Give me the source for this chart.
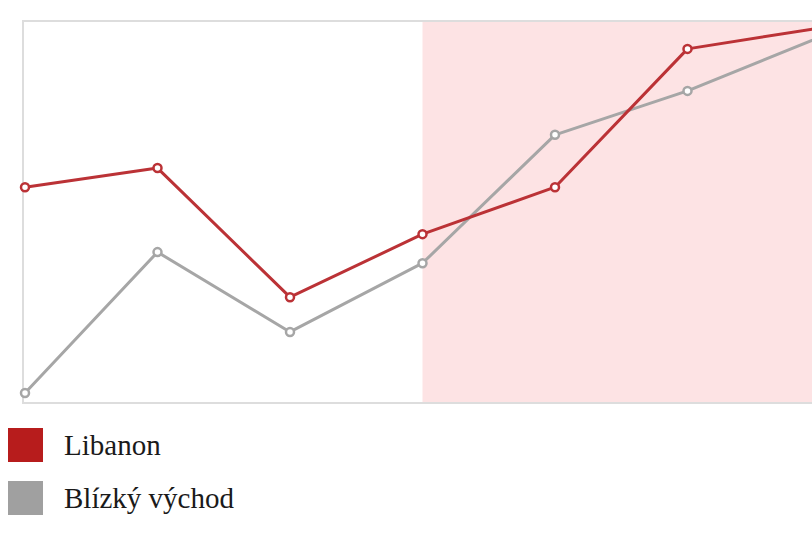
<!DOCTYPE html>
<html>
<head>
<meta charset="utf-8">
<script src="https://cdn.jsdelivr.net/npm/d3@7"></script>
<style>
  html, body { margin: 0; padding: 0; background: #fff; overflow: hidden; }
  #chart { width: 812px; height: 534px; }
</style>
</head>
<body>
<div id="chart"></div>
<script>
const categories = ["2006", "2007", "2008", "2009", "2010", "2011", "2012"];
const libanon = [56.5, 61.5, 27.7, 44.2, 56.5, 92.7, 98.2];
const blizkyVychod = [2.6, 39.5, 18.6, 36.6, 70.2, 81.7, 95.8];
const shadedFrom = "2009";

const SERIES = [
  { name: "Libanon", values: libanon, color: "#bb3236", legend: "#b71c1c" },
  { name: "Blízký východ", values: blizkyVychod, color: "#a6a6a6", legend: "#a0a0a0" },
];

const width = 812;
const height = 534;
const plot = { left: 23, top: 21, right: 830, bottom: 403 };

const svg = d3
  .select("#chart")
  .append("svg")
  .attr("width", width)
  .attr("height", height);

const x = d3
  .scalePoint()
  .domain(categories)
  .range([25, 820]);

const y = d3
  .scaleLinear()
  .domain([0, 100])
  .range([plot.bottom, plot.top]);

// shaded period
svg
  .append("rect")
  .attr("x", x(shadedFrom))
  .attr("y", plot.top)
  .attr("width", plot.right - x(shadedFrom))
  .attr("height", plot.bottom - plot.top)
  .style("fill", "#fde3e4");

// frame
svg
  .append("rect")
  .attr("x", plot.left)
  .attr("y", plot.top)
  .attr("width", plot.right - plot.left)
  .attr("height", plot.bottom - plot.top)
  .style("fill", "none")
  .style("stroke", "#dddddd")
  .style("stroke-width", "2px");

const line = d3
  .line()
  .x((d, i) => x(categories[i]))
  .y((d) => y(d));

// draw gray first so red sits on top where they cross
[SERIES[1], SERIES[0]].forEach((s) => {
  svg
    .append("path")
    .datum(s.values)
    .attr("d", line)
    .style("fill", "none")
    .style("stroke", s.color)
    .style("stroke-width", "3px")
    .style("stroke-linejoin", "round");

  svg
    .selectAll(null)
    .data(s.values)
    .enter()
    .append("circle")
    .attr("cx", (d, i) => x(categories[i]))
    .attr("cy", (d) => y(d))
    .attr("r", 4)
    .style("fill", "#fff")
    .style("stroke", s.color)
    .style("stroke-width", "2.5px");
});

// legend
const legend = svg
  .selectAll("g.legend")
  .data(SERIES)
  .enter()
  .append("g")
  .attr("class", "legend")
  .attr("transform", (d, i) => `translate(8, ${428 + i * 53})`);

legend
  .append("rect")
  .attr("width", 35)
  .attr("height", 34)
  .style("fill", (d) => d.legend);

legend
  .append("text")
  .attr("x", 56)
  .attr("y", 27)
  .text((d) => d.name)
  .style("font-family", "'Liberation Serif', 'Times New Roman', serif")
  .style("font-size", "29px")
  .style("fill", "#1a1a1a");
</script>
</body>
</html>
